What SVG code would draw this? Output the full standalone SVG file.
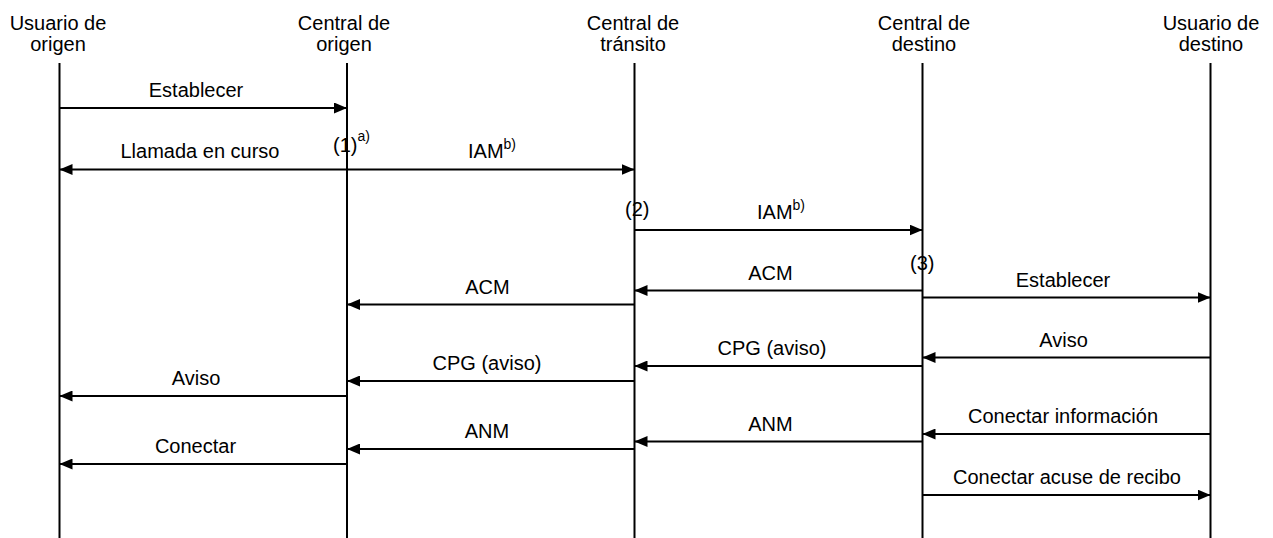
<svg xmlns="http://www.w3.org/2000/svg" width="1273" height="538" viewBox="0 0 1273 538">
  <style>
    text { font-family: "Liberation Sans", Arial, sans-serif; font-size: 20px; fill: #000; }
    .c { text-anchor: middle; }
    .sup { font-size: 14px; }
    .life { stroke: #000; stroke-width: 2; fill: none; }
    .msg { stroke: #000; stroke-width: 2; fill: none; marker-end: url(#arrow); }
    .both { marker-start: url(#arrowStart); }
  </style>
  <defs>
    <marker id="arrow" markerUnits="userSpaceOnUse" viewBox="0 0 13 11" refX="13" refY="5.5" markerWidth="13" markerHeight="11" orient="auto">
      <path d="M0,0 L13,5.5 L0,11 Z" fill="#000"/>
    </marker>
    <marker id="arrowStart" markerUnits="userSpaceOnUse" viewBox="0 0 13 11" refX="13" refY="5.5" markerWidth="13" markerHeight="11" orient="auto-start-reverse">
      <path d="M0,0 L13,5.5 L0,11 Z" fill="#000"/>
    </marker>
  </defs>
  <rect width="1273" height="538" fill="#fff"/>

  <!-- participants with their lifelines -->
  <g id="usuario-origen">
    <text class="c" x="58" y="29.5">Usuario de</text>
    <text class="c" x="58" y="51">origen</text>
    <line class="life" x1="59.5" y1="63" x2="59.5" y2="538"/>
  </g>
  <g id="central-origen">
    <text class="c" x="344" y="29.5">Central de</text>
    <text class="c" x="344" y="51">origen</text>
    <line class="life" x1="347" y1="63" x2="347" y2="538"/>
  </g>
  <g id="central-transito">
    <text class="c" x="633" y="29.5">Central de</text>
    <text class="c" x="633" y="51">tránsito</text>
    <line class="life" x1="634.5" y1="63" x2="634.5" y2="538"/>
  </g>
  <g id="central-destino">
    <text class="c" x="924" y="29.5">Central de</text>
    <text class="c" x="924" y="51">destino</text>
    <line class="life" x1="922.5" y1="63" x2="922.5" y2="538"/>
  </g>
  <g id="usuario-destino">
    <text class="c" x="1211" y="29.5">Usuario de</text>
    <text class="c" x="1211" y="51">destino</text>
    <line class="life" x1="1210.5" y1="63" x2="1210.5" y2="538"/>
  </g>

  <!-- step markers -->
  <g id="marcas">
    <text x="333" y="152">(1)<tspan class="sup" dy="-11">a)</tspan></text>
    <text x="625" y="215.5">(2)</text>
    <text x="910" y="270">(3)</text>
  </g>

  <!-- messages -->
  <g id="mensajes">
    <line class="msg" x1="59.5" y1="108" x2="347" y2="108"/>
    <text class="c" x="196" y="97">Establecer</text>

    <line class="msg both" x1="59.5" y1="169.5" x2="634.5" y2="169.5"/>
    <text class="c" x="200" y="158">Llamada en curso</text>
    <text x="468" y="158">IAM<tspan class="sup" dy="-9">b)</tspan></text>

    <line class="msg" x1="634.5" y1="230" x2="922.5" y2="230"/>
    <text x="757" y="219">IAM<tspan class="sup" dy="-9">b)</tspan></text>

    <line class="msg" x1="922.5" y1="290.5" x2="634.5" y2="290.5"/>
    <text class="c" x="770.5" y="279.5">ACM</text>

    <line class="msg" x1="922.5" y1="297.5" x2="1210.5" y2="297.5"/>
    <text class="c" x="1063" y="286.5">Establecer</text>

    <line class="msg" x1="634.5" y1="304.5" x2="347" y2="304.5"/>
    <text class="c" x="487.5" y="294">ACM</text>

    <line class="msg" x1="1210.5" y1="357.5" x2="922.5" y2="357.5"/>
    <text class="c" x="1063.5" y="346.5">Aviso</text>

    <line class="msg" x1="922.5" y1="366" x2="634.5" y2="366"/>
    <text class="c" x="772" y="355">CPG (aviso)</text>

    <line class="msg" x1="634.5" y1="381" x2="347" y2="381"/>
    <text class="c" x="487" y="370">CPG (aviso)</text>

    <line class="msg" x1="347" y1="396" x2="59.5" y2="396"/>
    <text class="c" x="196" y="385">Aviso</text>

    <line class="msg" x1="1210.5" y1="434" x2="922.5" y2="434"/>
    <text class="c" x="1063" y="423">Conectar información</text>

    <line class="msg" x1="922.5" y1="441.5" x2="634.5" y2="441.5"/>
    <text class="c" x="770.5" y="430.5">ANM</text>

    <line class="msg" x1="634.5" y1="449" x2="347" y2="449"/>
    <text class="c" x="487" y="438">ANM</text>

    <line class="msg" x1="347" y1="464" x2="59.5" y2="464"/>
    <text class="c" x="195.5" y="453">Conectar</text>

    <line class="msg" x1="922.5" y1="495" x2="1210.5" y2="495"/>
    <text class="c" x="1067" y="484">Conectar acuse de recibo</text>
  </g>
</svg>
